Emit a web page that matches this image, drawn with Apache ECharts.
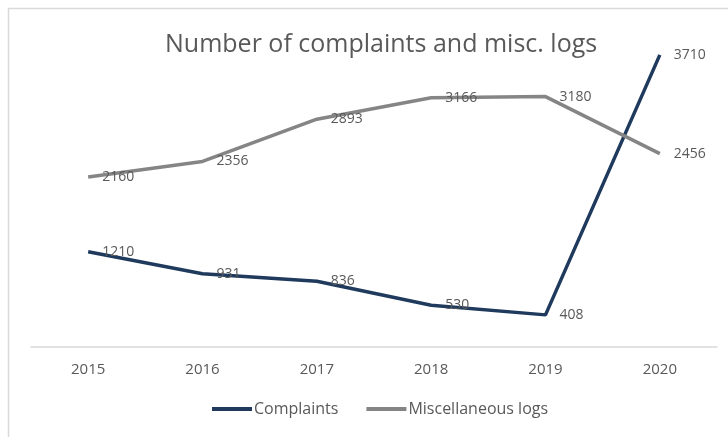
<!DOCTYPE html>
<html>
<head>
<meta charset="utf-8">
<script src="https://cdn.jsdelivr.net/npm/echarts@6/dist/echarts.min.js"></script>
<style>
html,body{margin:0;padding:0;background:#fff;}
#c{width:728px;height:437px;}
</style>
</head>
<body>
<div id="c"></div>
<script>
const categories = ['2015', '2016', '2017', '2018', '2019', '2020'];
const complaints = [1210, 931, 836, 530, 408, 3710];
const miscLogs = [2160, 2356, 2893, 3166, 3180, 2456];
const seriesNames = ['Complaints', 'Miscellaneous logs'];

const chart = echarts.init(document.getElementById('c'));
const font = 'Open Sans, Noto Sans, sans-serif';
const labelStyle = {
  show: true, position: 'right', distance: 14,
  color: '#595959', fontSize: 14, fontFamily: font
};
chart.setOption({
  animation: false,
  graphic: [{
    type: 'rect', silent: true,
    shape: { x: 8.5, y: 8.5, width: 760, height: 460 },
    style: { fill: 'none', stroke: '#d9d9d9', lineWidth: 1.5 }
  }],
  title: {
    text: 'Number of complaints and misc. logs',
    left: 160, top: 27,
    textStyle: { color: '#595959', fontSize: 25, fontWeight: 'normal', fontFamily: font }
  },
  legend: {
    bottom: 15, left: 207,
    itemWidth: 40, itemHeight: 4, itemGap: 28,
    icon: 'rect',
    textStyle: { color: '#595959', fontSize: 16, fontFamily: font, padding: [0, 0, 0, -3] },
    data: seriesNames
  },
  grid: { left: 31, right: 11, top: 32, bottom: 90 },
  xAxis: {
    type: 'category', data: categories, boundaryGap: true,
    axisLine: { lineStyle: { color: '#d9d9d9', width: 1.5 } },
    axisTick: { show: false },
    axisLabel: { color: '#595959', fontSize: 15, fontFamily: font, margin: 15 }
  },
  yAxis: {
    type: 'value', min: 0, max: 4000,
    show: false, splitLine: { show: false }
  },
  series: [
    {
      name: seriesNames[0], type: 'line', data: complaints,
      symbol: 'circle', symbolSize: 0, showSymbol: true,
      lineStyle: { color: '#1f3a5c', width: 3.5 },
      itemStyle: { color: '#1f3a5c' },
      label: labelStyle
    },
    {
      name: seriesNames[1], type: 'line', data: miscLogs,
      symbol: 'circle', symbolSize: 0, showSymbol: true,
      lineStyle: { color: '#858585', width: 3.5 },
      itemStyle: { color: '#858585' },
      label: labelStyle
    }
  ]
});
</script>
</body>
</html>
